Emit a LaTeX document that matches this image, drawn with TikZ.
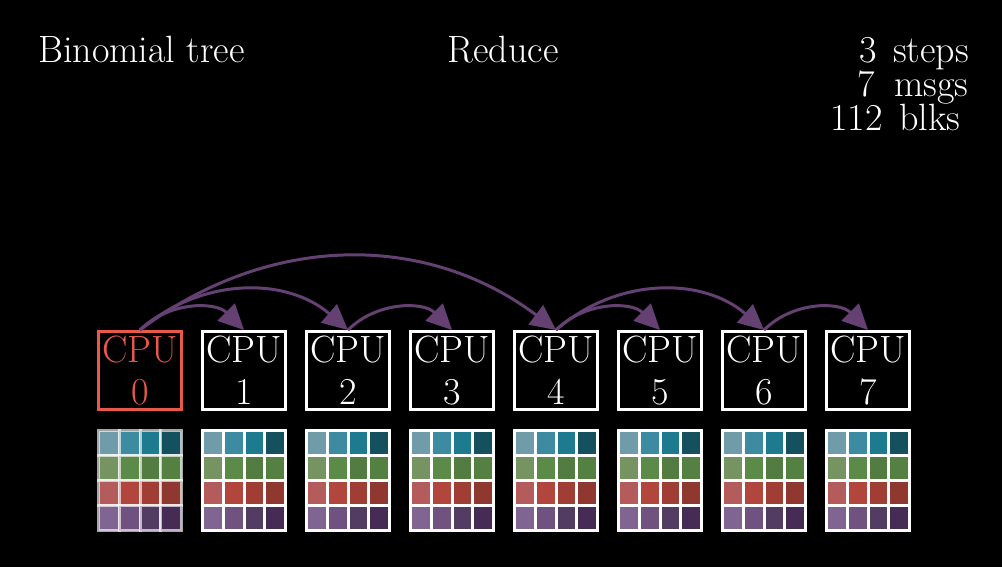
\documentclass[tikz,border=0pt]{standalone}
\usetikzlibrary{arrows.meta}
\definecolor{cpured}{RGB}{232,89,74}
\definecolor{arccol}{RGB}{100,65,114}
\definecolor{c11}{RGB}{112,156,170}\definecolor{c12}{RGB}{60,139,160}\definecolor{c13}{RGB}{30,122,143}\definecolor{c14}{RGB}{21,80,94}
\definecolor{c21}{RGB}{118,148,98}\definecolor{c22}{RGB}{92,138,72}\definecolor{c23}{RGB}{82,124,66}\definecolor{c24}{RGB}{84,128,66}
\definecolor{c31}{RGB}{180,92,92}\definecolor{c32}{RGB}{178,70,60}\definecolor{c33}{RGB}{160,62,54}\definecolor{c34}{RGB}{142,56,48}
\definecolor{c41}{RGB}{128,100,146}\definecolor{c42}{RGB}{112,82,128}\definecolor{c43}{RGB}{82,60,98}\definecolor{c44}{RGB}{70,43,84}
\tikzset{
  txt/.style={font=\fontsize{28.5}{31.5}\selectfont, text=white, inner sep=0pt},
  cpubox/.style={txt, draw=white, line width=2.25pt, minimum width=62.25pt, minimum height=58.5pt, align=center},
  cell/.style={draw=white, line width=2.25pt},
  arr/.style={draw=arccol, line width=2.25pt, -{Triangle[length=19pt,width=18pt]}}
}
\begin{document}
\begin{tikzpicture}[x=0.75pt,y=-0.75pt]
\fill[black] (0,0) rectangle (1002,567);
\useasboundingbox (0,0) rectangle (1002,567);
\node[txt, anchor=base west] (title) at (38,63) {Binomial tree};
\node[txt, anchor=base] (op) at (503,63) {Reduce};
\node[txt, anchor=base east] (n1) at (877,63) {3};
\node[txt, anchor=base west] (w1) at (893,63) {steps};
\node[txt, anchor=base east] (n2) at (875,96) {7};
\node[txt, anchor=base west] (w2) at (894,96) {msgs};
\node[txt, anchor=base east] (n3) at (883,130) {112};
\node[txt, anchor=base west] (w3) at (899,130) {blks};
\node[cpubox, draw=cpured, text=cpured] (cpu0) at (140,370.5) {CPU\\0};
\foreach \i in {1,...,7}{
  \node[cpubox] (cpu\i) at ({140+104*\i},370.5) {CPU\\\i};
}
\foreach \i in {0,...,7}{
  \foreach \r in {1,...,4}{
    \foreach \c in {1,...,4}{
      \ifnum\i=0
        \draw[cell, draw opacity=0.65, fill=c\r\c] ({98.5+104*\i+20.75*(\c-1)},{430.5+25*(\r-1)}) rectangle ++(20.75,25);
      \else
        \draw[cell, fill=c\r\c] ({98.5+104*\i+20.75*(\c-1)},{430.5+25*(\r-1)}) rectangle ++(20.75,25);
      \fi
    }
  }
}
\draw[arr] (cpu0.north) to[bend left=37] (cpu4.north);
\draw[arr] (cpu0.north) to[bend left=41] (cpu2.north);
\draw[arr] (cpu0.north) to[bend left=45] (cpu1.north);
\draw[arr] (cpu2.north) to[bend left=45] (cpu3.north);
\draw[arr] (cpu4.north) to[bend left=41] (cpu6.north);
\draw[arr] (cpu4.north) to[bend left=45] (cpu5.north);
\draw[arr] (cpu6.north) to[bend left=45] (cpu7.north);
\end{tikzpicture}
\end{document}
